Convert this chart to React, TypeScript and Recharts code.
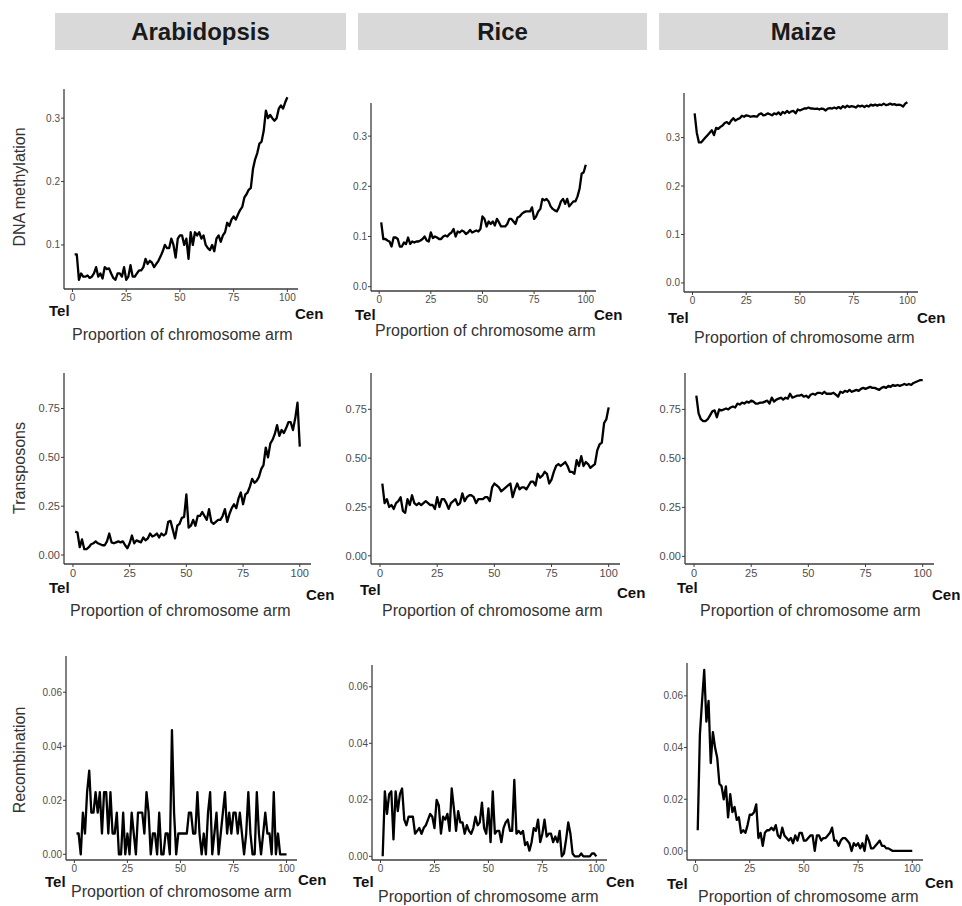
import React from "react";
import { LineChart, Line, XAxis, YAxis } from "recharts";

// ---- data (bin 1..100 along the chromosome arm, telomere -> centromere) ----
const species = ["Arabidopsis", "Rice", "Maize"];
const rowTitles = ["DNA methylation", "Transposons", "Recombination"];
const xTicks = [0, 25, 50, 75, 100];
const methTicks = [0, 0.1, 0.2, 0.3];
const teTicks = [0, 0.25, 0.5, 0.75];
const recTicks = [0, 0.02, 0.04, 0.06];
const bins = Array.from({ length: 100 }, (_, i) => i + 1);

const arabMeth = [
  0.085, 0.085, 0.045, 0.055, 0.05, 0.05, 0.052, 0.048, 0.05, 0.055,
  0.065, 0.05, 0.055, 0.047, 0.065, 0.062, 0.063, 0.055, 0.048, 0.045,
  0.055, 0.055, 0.05, 0.065, 0.045, 0.05, 0.068, 0.05, 0.05, 0.055,
  0.06, 0.06, 0.065, 0.078, 0.07, 0.075, 0.072, 0.065, 0.07, 0.075,
  0.082, 0.09, 0.1, 0.095, 0.095, 0.11, 0.1, 0.08, 0.11, 0.115,
  0.115, 0.1, 0.11, 0.078, 0.12, 0.1, 0.12, 0.115, 0.12, 0.11,
  0.115, 0.1, 0.095, 0.092, 0.1, 0.09, 0.11, 0.115, 0.105, 0.115,
  0.12, 0.135, 0.13, 0.14, 0.145, 0.14, 0.148, 0.155, 0.16, 0.175,
  0.18, 0.187, 0.19, 0.22, 0.235, 0.245, 0.26, 0.263, 0.28, 0.312,
  0.3, 0.305, 0.3, 0.296, 0.3, 0.315, 0.32, 0.315, 0.325, 0.333,
];
const riceMeth = [
  0.128, 0.095, 0.095, 0.092, 0.09, 0.08, 0.098, 0.098, 0.095, 0.08,
  0.08, 0.088, 0.085, 0.098, 0.085, 0.09, 0.088, 0.09, 0.09, 0.092,
  0.095, 0.1, 0.092, 0.09, 0.108, 0.097, 0.1, 0.098, 0.095, 0.095,
  0.1, 0.102, 0.1, 0.105, 0.108, 0.115, 0.1, 0.11, 0.108, 0.112,
  0.11, 0.105, 0.108, 0.113, 0.108, 0.11, 0.112, 0.11, 0.115, 0.14,
  0.135, 0.12, 0.13, 0.125, 0.13, 0.122, 0.135, 0.128, 0.12, 0.12,
  0.12, 0.125, 0.135, 0.135, 0.13, 0.125, 0.138, 0.14, 0.145, 0.148,
  0.15, 0.15, 0.15, 0.158, 0.135, 0.14, 0.15, 0.155, 0.175, 0.172,
  0.175, 0.17, 0.16, 0.155, 0.152, 0.15, 0.158, 0.17, 0.175, 0.165,
  0.175, 0.16, 0.165, 0.17, 0.17, 0.18, 0.195, 0.225, 0.228, 0.243,
];
const maizeMeth = [
  0.35, 0.31, 0.29, 0.29, 0.295, 0.3, 0.305, 0.31, 0.315, 0.305,
  0.32, 0.318, 0.322, 0.325, 0.33, 0.332, 0.328, 0.335, 0.34, 0.335,
  0.338, 0.34, 0.345, 0.343, 0.346, 0.345, 0.343, 0.344, 0.344, 0.343,
  0.348, 0.35, 0.346, 0.347, 0.35, 0.348, 0.346, 0.35, 0.348, 0.352,
  0.347, 0.353, 0.35, 0.355, 0.351, 0.354, 0.355, 0.35, 0.358, 0.356,
  0.358, 0.36, 0.36, 0.362, 0.36, 0.36, 0.359, 0.36, 0.358, 0.36,
  0.359, 0.356, 0.36, 0.361, 0.36, 0.362, 0.36, 0.363, 0.36, 0.365,
  0.362, 0.366, 0.363, 0.365, 0.364, 0.362, 0.366, 0.364, 0.366, 0.363,
  0.366, 0.364, 0.368, 0.366, 0.368, 0.366, 0.368, 0.367, 0.37, 0.367,
  0.368, 0.37, 0.368, 0.369, 0.367, 0.368, 0.367, 0.364, 0.37, 0.373,
];
const arabTE = [
  0.12, 0.115, 0.04, 0.08, 0.03, 0.03, 0.04, 0.055, 0.06, 0.07,
  0.06, 0.055, 0.05, 0.05, 0.07, 0.11, 0.065, 0.06, 0.065, 0.07,
  0.065, 0.07, 0.05, 0.035, 0.06, 0.1, 0.06, 0.075, 0.07, 0.065,
  0.09, 0.075, 0.085, 0.11, 0.095, 0.1, 0.11, 0.09, 0.11, 0.1,
  0.11, 0.17, 0.175, 0.13, 0.085, 0.15, 0.16, 0.19, 0.195, 0.31,
  0.14, 0.15, 0.18, 0.15, 0.2, 0.2, 0.22, 0.2, 0.18, 0.235,
  0.17, 0.16, 0.17, 0.18, 0.18, 0.2, 0.235, 0.17, 0.21, 0.24,
  0.26, 0.24, 0.29, 0.32, 0.26, 0.31, 0.32, 0.35, 0.39, 0.37,
  0.38, 0.4, 0.44, 0.46, 0.55, 0.5, 0.57, 0.59, 0.62, 0.665,
  0.61, 0.64, 0.625, 0.65, 0.68, 0.68, 0.64, 0.7, 0.78, 0.555,
];
const riceTE = [
  0.37, 0.27, 0.29, 0.25, 0.26, 0.24, 0.27, 0.28, 0.3, 0.23,
  0.22, 0.29, 0.26, 0.31, 0.27, 0.26, 0.27, 0.26, 0.27, 0.28,
  0.27, 0.26, 0.26, 0.24, 0.3, 0.25, 0.29, 0.29, 0.27, 0.24,
  0.27, 0.28, 0.29, 0.26, 0.27, 0.32, 0.28, 0.3, 0.31, 0.31,
  0.3, 0.27, 0.29, 0.29, 0.29, 0.3, 0.3, 0.28, 0.35, 0.37,
  0.36, 0.35, 0.33, 0.34, 0.35, 0.36, 0.37, 0.3, 0.34, 0.37,
  0.34, 0.35, 0.35, 0.34, 0.36, 0.38, 0.38, 0.36, 0.42, 0.4,
  0.41, 0.43, 0.42, 0.37, 0.39, 0.43, 0.46, 0.47, 0.46, 0.47,
  0.48, 0.46, 0.43, 0.43, 0.42, 0.49, 0.46, 0.51, 0.46, 0.48,
  0.47, 0.45, 0.46, 0.47, 0.54, 0.57, 0.58, 0.68, 0.7, 0.76,
];
const maizeTE = [
  0.82, 0.73, 0.7, 0.69, 0.69, 0.7, 0.72, 0.74, 0.745, 0.71,
  0.75, 0.745, 0.75, 0.755, 0.75, 0.76, 0.765, 0.76, 0.78, 0.775,
  0.785, 0.78, 0.79, 0.785, 0.795, 0.79, 0.78, 0.78, 0.785, 0.785,
  0.79, 0.795, 0.78, 0.81, 0.79, 0.8, 0.805, 0.81, 0.8, 0.81,
  0.805, 0.83, 0.81, 0.815, 0.82, 0.82, 0.825, 0.815, 0.82, 0.81,
  0.825, 0.83, 0.825, 0.835, 0.835, 0.83, 0.84, 0.83, 0.83, 0.83,
  0.835, 0.825, 0.815, 0.84, 0.835, 0.845, 0.84, 0.85, 0.84, 0.845,
  0.85, 0.845, 0.855, 0.86, 0.855, 0.86, 0.865, 0.86, 0.86, 0.855,
  0.85, 0.86, 0.865, 0.86, 0.87, 0.865, 0.875, 0.87, 0.875, 0.87,
  0.875, 0.88, 0.875, 0.88, 0.875, 0.885, 0.89, 0.895, 0.9, 0.9,
];
const arabRec = [
  0.0077, 0.0077, 0, 0.0154, 0.0077, 0.023, 0.031, 0.0154, 0.0154, 0.023,
  0.0154, 0.023, 0.0077, 0.023, 0.023, 0.0077, 0.023, 0.0077, 0.0077, 0.0154,
  0, 0, 0.0154, 0, 0.0077, 0, 0.0154, 0.0077, 0, 0.0154,
  0.0154, 0.0154, 0.0077, 0.023, 0.0154, 0, 0.0077, 0.0077, 0, 0.0154,
  0, 0, 0.0077, 0.0077, 0, 0.046, 0.0154, 0, 0.0077, 0.0077,
  0.0077, 0.0077, 0.0077, 0.0154, 0.0154, 0.0077, 0.0077, 0.023, 0.0077, 0,
  0.0077, 0, 0.0154, 0.023, 0, 0.0077, 0.0154, 0, 0.0077, 0.0154,
  0.023, 0.0077, 0.0154, 0.0077, 0.0154, 0.0154, 0.0077, 0.0154, 0.0077, 0,
  0.0077, 0.023, 0.0077, 0, 0, 0.023, 0.0077, 0, 0.0077, 0.0154,
  0.0077, 0.0077, 0, 0.023, 0, 0.0077, 0, 0, 0, 0,
];
const riceRec = [
  0, 0.023, 0.015, 0.022, 0.023, 0.006, 0.023, 0.016, 0.022, 0.024,
  0.013, 0.011, 0.014, 0.014, 0.014, 0.008, 0.009, 0.01, 0.008, 0.01,
  0.011, 0.013, 0.015, 0.014, 0.01, 0.02, 0.018, 0.008, 0.014, 0.013,
  0.015, 0.009, 0.024, 0.017, 0.009, 0.016, 0.012, 0.012, 0.008, 0.011,
  0.009, 0.008, 0.01, 0.014, 0.011, 0.012, 0.019, 0.01, 0.008, 0.017,
  0.005, 0.023, 0.008, 0.009, 0.009, 0.005, 0.01, 0.012, 0.013, 0.009,
  0.009, 0.027, 0.008, 0.009, 0.008, 0.009, 0.004, 0.005, 0.002, 0.005,
  0.01, 0.009, 0.013, 0.005, 0.008, 0.013, 0.007, 0.008, 0.008, 0.005,
  0.007, 0.005, 0.009, 0, 0.001, 0.006, 0.012, 0.008, 0.001, 0,
  0, 0, 0.001, 0, 0, 0, 0, 0.001, 0.001, 0,
];
const maizeRec = [
  0.008, 0.045, 0.058, 0.07, 0.05, 0.058, 0.034, 0.046, 0.04, 0.036,
  0.026, 0.025, 0.02, 0.025, 0.013, 0.022, 0.015, 0.017, 0.012, 0.013,
  0.007, 0.008, 0.007, 0.01, 0.014, 0.014, 0.015, 0.018, 0.005, 0.007,
  0.002, 0.007, 0.008, 0.008, 0.009, 0.008, 0.01, 0.006, 0.005, 0.009,
  0.006, 0.005, 0.004, 0.005, 0.003, 0.006, 0.004, 0.007, 0.007, 0.004,
  0.004, 0.005, 0.006, 0.006, 0, 0.006, 0.006, 0.004, 0.005, 0.005,
  0.006, 0.007, 0.009, 0.004, 0.004, 0.002, 0.004, 0.005, 0.005, 0.004,
  0.003, 0, 0.003, 0.002, 0.003, 0.001, 0.003, 0, 0.006, 0.004,
  0.001, 0.001, 0.002, 0.003, 0.004, 0.002, 0.002, 0.001, 0.001, 0.0005,
  0, 0, 0, 0, 0, 0, 0, 0, 0, 0,
];

// ---- layout ----
const FONT = "'Liberation Sans', Arial, Helvetica, sans-serif";
const AXIS = "#3c3c3c";
const TICK_TEXT = "#4d4d4d";
const X_DOMAIN = [-3.95, 104.95];

type PanelCfg = {
  values: number[];
  box: [number, number, number, number]; // left, right, top, bottom of plot area
  yDomain: [number, number];
  yTicks: number[];
  digits: number;
  fs: number;
  tel: [number, number];
  cen: [number, number];
  prop: [number, number];
};

const panels: PanelCfg[] = [
  { values: arabMeth, box: [64, 298, 89, 289], yDomain: [0.0305, 0.346], yTicks: methTicks, digits: 1, fs: 10, tel: [49, 316], cen: [295, 319], prop: [72, 340] },
  { values: riceMeth, box: [371, 596, 103, 291], yDomain: [-0.0086, 0.366], yTicks: methTicks, digits: 1, fs: 10, tel: [355, 320], cen: [594, 320], prop: [375, 336] },
  { values: maizeMeth, box: [684, 918, 93, 292], yDomain: [-0.0187, 0.392], yTicks: methTicks, digits: 1, fs: 10, tel: [668, 323], cen: [917, 323], prop: [694, 343] },
  { values: arabTE, box: [64, 311, 373, 564], yDomain: [-0.046, 0.932], yTicks: teTicks, digits: 2, fs: 11, tel: [49, 593], cen: [306, 600], prop: [70, 616] },
  { values: riceTE, box: [371, 620, 373, 564], yDomain: [-0.042, 0.936], yTicks: teTicks, digits: 2, fs: 11, tel: [360, 595], cen: [617, 598], prop: [382, 616] },
  { values: maizeTE, box: [685, 934, 373, 564], yDomain: [-0.039, 0.936], yTicks: teTicks, digits: 2, fs: 11, tel: [677, 593], cen: [932, 600], prop: [700, 616] },
  { values: arabRec, box: [66, 297, 656, 860], yDomain: [-0.0021, 0.0734], yTicks: recTicks, digits: 2, fs: 10, tel: [45, 887], cen: [298, 885], prop: [71, 897] },
  { values: riceRec, box: [372, 607, 665, 860], yDomain: [-0.0013, 0.0677], yTicks: recTicks, digits: 2, fs: 10, tel: [353, 887], cen: [606, 887], prop: [378, 902] },
  { values: maizeRec, box: [687, 923, 663, 860], yDomain: [-0.0035, 0.0727], yTicks: recTicks, digits: 2, fs: 10, tel: [667, 889], cen: [925, 888], prop: [698, 902] },
];

const headers: [number, number][] = [
  [55, 346],
  [358, 647],
  [659, 948],
];
const rowTitleY = [187, 468, 760];

const ML = 45;
const MT = 6;
const MR = 6;
const MB = 25;

function Panel({ cfg }: { cfg: PanelCfg }) {
  const [L, R, T, B] = cfg.box;
  const data = bins.map((b, i) => ({ x: b, y: cfg.values[i] }));
  const ticks = cfg.yTicks.filter((t) => t >= cfg.yDomain[0] && t <= cfg.yDomain[1]);
  const tickStyle = { fontSize: cfg.fs, fill: TICK_TEXT, fontFamily: FONT };
  return (
    <div style={{ position: "absolute", left: L - ML, top: T - MT }}>
      <LineChart
        width={R - L + ML + MR}
        height={B - T + MT + MB}
        data={data}
        margin={{ top: MT, right: MR, left: 0, bottom: 0 }}
      >
        <XAxis
          dataKey="x"
          type="number"
          domain={X_DOMAIN}
          allowDataOverflow
          ticks={xTicks}
          height={MB}
          tickSize={3}
          tickMargin={2}
          tick={tickStyle}
          axisLine={{ stroke: AXIS, strokeWidth: 1.3 }}
          tickLine={{ stroke: AXIS, strokeWidth: 1 }}
        />
        <YAxis
          type="number"
          domain={cfg.yDomain}
          allowDataOverflow
          ticks={ticks}
          width={ML}
          tickSize={3}
          tickMargin={1}
          tick={tickStyle}
          tickFormatter={(v: number) => v.toFixed(cfg.digits)}
          axisLine={{ stroke: AXIS, strokeWidth: 1.3 }}
          tickLine={{ stroke: AXIS, strokeWidth: 1 }}
        />
        <Line
          type="linear"
          dataKey="y"
          stroke="#000"
          strokeWidth={2.3}
          strokeLinejoin="round"
          dot={false}
          isAnimationActive={false}
        />
      </LineChart>
    </div>
  );
}

export default function App() {
  return (
    <div
      style={{
        position: "absolute",
        left: 0,
        top: 0,
        width: 962,
        height: 906,
        background: "#fff",
        overflow: "hidden",
        fontFamily: FONT,
      }}
    >
      {panels.map((p, i) => (
        <Panel key={i} cfg={p} />
      ))}
      <svg
        width={962}
        height={906}
        style={{ position: "absolute", left: 0, top: 0, pointerEvents: "none" }}
      >
        {headers.map(([x0, x1], i) => (
          <g key={i}>
            <rect x={x0} y={13} width={x1 - x0} height={37} fill="#d9d9d9" />
            <text
              x={(x0 + x1) / 2}
              y={40}
              textAnchor="middle"
              fontSize={24}
              fontWeight="bold"
              fill="#1a1a1a"
              fontFamily={FONT}
            >
              {species[i]}
            </text>
          </g>
        ))}
        {rowTitles.map((t, i) => (
          <text
            key={t}
            transform={`translate(25, ${rowTitleY[i]}) rotate(-90)`}
            textAnchor="middle"
            fontSize={16}
            fill="#333"
            fontFamily={FONT}
          >
            {t}
          </text>
        ))}
        {panels.map((p, i) => (
          <g key={i} fontFamily={FONT}>
            <text x={p.tel[0]} y={p.tel[1]} fontSize={15} fontWeight="bold" fill="#111">
              Tel
            </text>
            <text x={p.cen[0]} y={p.cen[1]} fontSize={15} fontWeight="bold" fill="#111">
              Cen
            </text>
            <text x={p.prop[0]} y={p.prop[1]} fontSize={16} fill="#333">
              Proportion of chromosome arm
            </text>
          </g>
        ))}
      </svg>
    </div>
  );
}
